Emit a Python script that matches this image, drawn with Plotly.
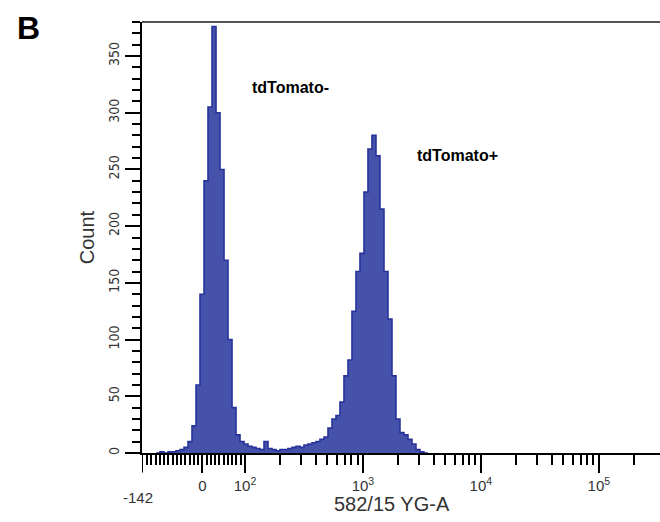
import numpy as np
import plotly.graph_objects as go

# ---- data -------------------------------------------------------------
# histogram counts, uniform bins on the biexponential display scale
counts = [0, 1, 0, 1, 1, 2, 3, 5, 10, 24, 60, 140, 240, 305, 376, 300, 250,
          170, 100, 40, 16, 10, 8, 6, 5, 4, 3, 10, 4, 3, 2, 3, 3, 4, 5, 6,
          5, 7, 8, 9, 10, 12, 14, 22, 30, 33, 45, 68, 82, 125, 160, 176,
          230, 268, 280, 262, 215, 160, 118, 68, 30, 18, 16, 12, 8, 3, 1, 0]
HIST_START = -109          # fluorescence value at left edge of first bin
BIN_WIDTH = 0.0339         # bin width in display decades

x_major_vals = [0, 100, 1000, 10000, 100000]
x_major_text = ["0", "10<sup>2</sup>", "10<sup>3</sup>", "10<sup>4</sup>", "10<sup>5</sup>"]
x_min_val = -142
x_max_val = 330000
x_minor_vals = ([v for v in range(-130, 100, 10) if v != 0]
                + [m * 10 ** e for e in (2, 3, 4) for m in range(2, 10)] + [200000])

y_max = 380

# ---- biexponential-like display transform ----------------------------
LIN_TOP = 100
LIN_SLOPE = 0.003607


def disp(v):
    v = np.asarray(v, dtype=float)
    return np.where(v >= LIN_TOP, np.log10(np.maximum(v, LIN_TOP)),
                    2 + (v - LIN_TOP) * LIN_SLOPE)


edges = float(disp(HIST_START)) + BIN_WIDTH * np.arange(len(counts) + 1)
yvals = counts + [counts[-1]]

fig = go.Figure()
fig.add_trace(go.Scatter(
    x=edges, y=yvals, mode="lines", line_shape="hv",
    line=dict(color="#27339A", width=1.6),
    fill="tozeroy", fillcolor="#4652AA", hoverinfo="skip", showlegend=False,
))

axis_font = dict(family="Liberation Sans, Arial, sans-serif", size=15, color="#333333")
x0_disp = float(disp(x_min_val))

fig.update_layout(
    width=660, height=522,
    margin=dict(l=142, r=0, t=22, b=69),
    paper_bgcolor="white", plot_bgcolor="white",
    xaxis=dict(
        range=[x0_disp, float(disp(x_max_val))],
        automargin=False,
        tickmode="array",
        tickvals=[float(v) for v in disp(x_major_vals)],
        ticktext=x_major_text,
        ticks="outside", ticklen=18, tickwidth=1.5, tickcolor="black",
        minor=dict(tickmode="array", tickvals=[float(v) for v in disp(x_minor_vals)],
                   ticks="outside", ticklen=10, tickwidth=1.5, tickcolor="black"),
        showline=True, linecolor="black", linewidth=2,
        showgrid=False, zeroline=False,
        tickfont=axis_font,
    ),
    yaxis=dict(
        range=[0, y_max],
        automargin=False,
        tickmode="linear", tick0=0, dtick=50,
        ticks="outside", ticklen=15, tickwidth=1.5, tickcolor="black",
        minor=dict(dtick=10, ticks="outside", ticklen=8, tickwidth=1.5, tickcolor="black"),
        tickangle=-90,
        showline=True, linecolor="black", linewidth=2,
        showgrid=False, zeroline=False,
        tickfont=dict(family="Liberation Sans Narrow, DejaVu Sans Condensed, sans-serif",
                      size=14, color="#333333"),
        title=dict(text="Count", font=dict(family="Liberation Sans, Arial, sans-serif",
                                           size=20, color="#333333"), standoff=6),
    ),
    shapes=[
        dict(type="line", xref="paper", yref="paper", x0=0, x1=1, y0=1, y1=1,
             line=dict(color="#555555", width=2)),
        dict(type="line", xref="x", yref="paper", x0=x0_disp, x1=x0_disp, y0=0, y1=-0.045,
             line=dict(color="black", width=2)),
    ],
    annotations=[
        dict(text="<b>B</b>", xref="paper", yref="paper", x=-0.22, y=0.986,
             xanchor="center", yanchor="middle", showarrow=False,
             font=dict(family="Liberation Sans, Arial, sans-serif", size=32, color="black")),
        dict(text="<b>tdTomato-</b>", xref="paper", yref="paper", x=0.2085, y=0.847,
             xanchor="left", yanchor="middle", showarrow=False,
             font=dict(family="Liberation Sans, Arial, sans-serif", size=16, color="black")),
        dict(text="<b>tdTomato+</b>", xref="paper", yref="paper", x=0.527, y=0.691,
             xanchor="left", yanchor="middle", showarrow=False,
             font=dict(family="Liberation Sans, Arial, sans-serif", size=16, color="black")),
        dict(text=str(x_min_val), xref="x", yref="paper", x=x0_disp, y=-0.104,
             xshift=-4, xanchor="center", yanchor="middle", showarrow=False,
             font=axis_font),
        dict(text="582/15 YG-A", xref="paper", yref="paper", x=0.4826, y=-0.118,
             xanchor="center", yanchor="middle", showarrow=False,
             font=dict(family="Liberation Sans, Arial, sans-serif", size=20, color="#333333")),
    ],
)

fig.write_html(
    "out.html",
    config={"displayModeBar": False},
    post_script="document.body.style.margin='0';document.body.style.overflow='hidden';",
)
